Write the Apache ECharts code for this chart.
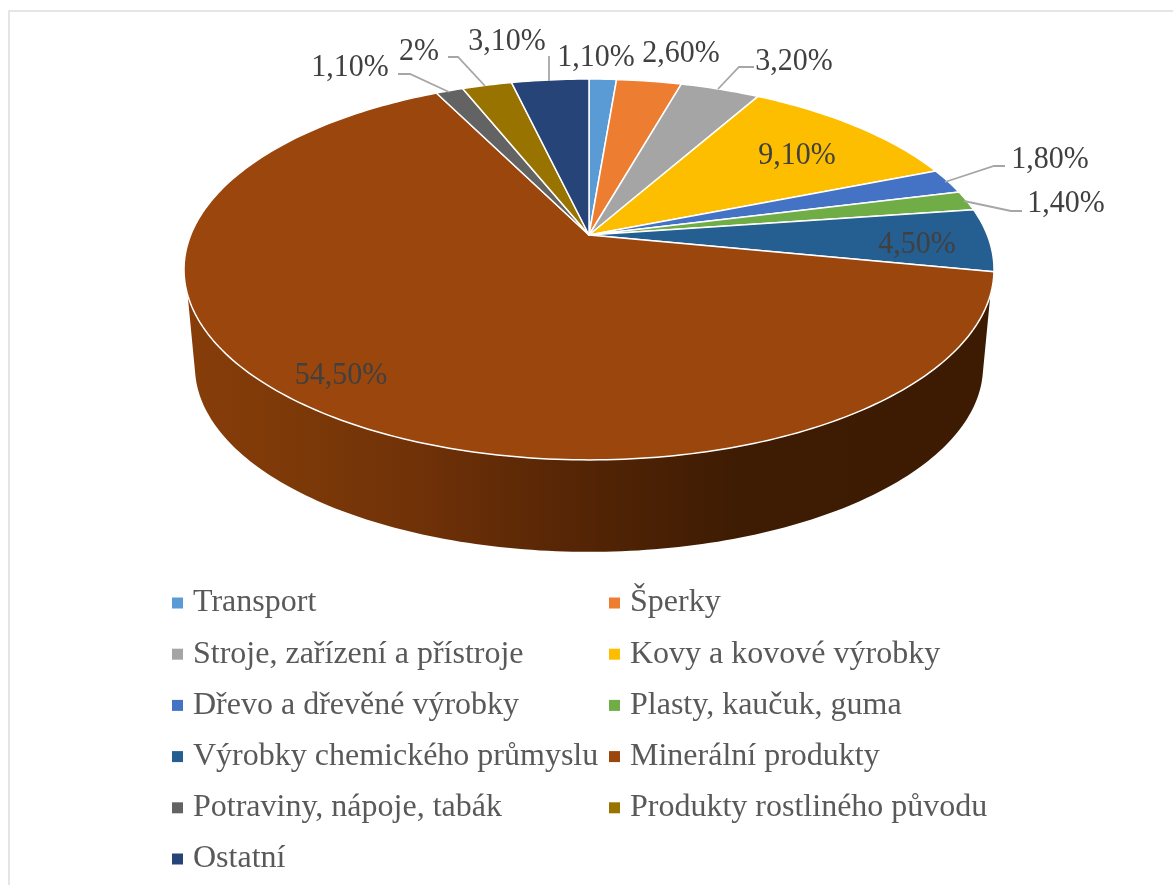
<!DOCTYPE html>
<html><head><meta charset="utf-8">
<style>html,body{margin:0;padding:0;background:#fff;overflow:hidden}#c{width:1173px;height:885px}</style>
<script src="https://cdn.jsdelivr.net/npm/echarts@6/dist/echarts.min.js"></script>
</head><body><div id="c"></div>
<script>
const categories = ['Transport','Šperky','Stroje, zařízení a přístroje','Kovy a kovové výrobky','Dřevo a dřevěné výrobky','Plasty, kaučuk, guma','Výrobky chemického průmyslu','Minerální produkty','Potraviny, nápoje, tabák','Produkty rostliného původu','Ostatní'];
const values = [1.1,2.6,3.2,9.1,1.8,1.4,4.5,54.5,1.1,2,3.1];
const valueLabels = ['1,10%','2,60%','3,20%','9,10%','1,80%','1,40%','4,50%','54,50%','1,10%','2%','3,10%'];
const colors = ['#5B9BD5','#ED7D31','#A5A5A5','#FDBE00','#4472C4','#70AD47','#255E91','#9A460C','#636363','#997300','#264478'];

// layout, separate from the data
const labelCenters = [[596,58],[681,54],[794,62],[797,156],[1050,160],[1066,204],[917,245],[341,376],[350,68],[419,52],[507,42]];
const leaders = [null,null,[[754,67],[739,67],[718,89]],null,[[1005,166],[994,166],[945,182]],[[1022,211],[1011,211],[964,201]],null,null,[[398,74],[410,74],[449,92]],[[448,57],[458,57],[485,86]],[[549,56],[549,81]]];
const pie = {cx:589, cy:235, A:398.3, B:184.2, k:0.181, depthY:98, depthScale:0.973, wallFrom:107.9, wallTo:252.1, baseFrom:103.3, baseTo:256.7};
const FONT = '"Liberation Serif","Times New Roman",serif';

const total = values.reduce((a,b)=>a+b,0);
const startAngle = values.map((_,i)=>values.slice(0,i).reduce((a,b)=>a+b,0)/total*360);

// perspective projection of a point on the disc rim
function rim(deg, bottom){
  const t = deg*Math.PI/180, u = Math.sin(t), v = -Math.cos(t), w = 1-pie.k*v;
  const s = bottom ? pie.depthScale : 1, cy = pie.cy + (bottom ? pie.depthY : 0);
  return [pie.cx + s*pie.A*u/w, cy + s*pie.B*v/w];
}
function arc(a,b,bottom){
  const n = Math.max(2,Math.ceil(Math.abs(b-a))), out=[];
  for(let i=0;i<=n;i++) out.push(rim(a+(b-a)*i/n,bottom));
  return out;
}
function makeRender(i){
  return function(params, api){
    const val = api.value(0), a = startAngle[i], b = a+val/total*360, children=[];
    const wa = Math.max(a,pie.wallFrom), wb = Math.min(b,pie.wallTo);
    if(wb>wa){
      const ba = Math.max(a,pie.baseFrom), bb = Math.min(b,pie.baseTo);
      children.push({type:'polygon',shape:{points:arc(wa,wb,false).concat(arc(bb,ba,true))},
        style:{fill:{type:'linear',x:188,y:0,x2:990,y2:0,global:true,colorStops:[
          {offset:0,color:'#863D0A'},{offset:0.14,color:'#7C3908'},{offset:0.28,color:'#713208'},
          {offset:0.5,color:'#532405'},{offset:0.68,color:'#3E1C03'},{offset:1,color:'#3D1B02'}]}}});
    }
    children.push({type:'polygon',shape:{points:[[pie.cx,pie.cy]].concat(arc(a,b,false))},
      style:{fill:colors[i],stroke:'#fff',lineWidth:1.5,lineJoin:'round'},z2:2});
    if(leaders[i]) children.push({type:'polyline',shape:{points:leaders[i]},
      style:{fill:null,stroke:'#A6A6A6',lineWidth:1.8},z2:3});
    children.push({type:'text',z2:4,x:labelCenters[i][0],y:labelCenters[i][1],scaleY:1.07,
      style:{text:valueLabels[i],x:0,y:0,fill:'#404040',font:'30px '+FONT,align:'center',verticalAlign:'middle'}});
    return {type:'group',children};
  };
}
const legendText = {color:'#595959',fontFamily:FONT,fontSize:32,padding:[0,0,0,5],lineHeight:32};
function legend(left,names){
  return {show:true,orient:'vertical',left,top:587,padding:0,icon:'rect',itemWidth:11,itemHeight:11,itemGap:19.2,
    selectedMode:false,textStyle:legendText,data:names};
}
const chart = echarts.init(document.getElementById('c'),null,{renderer:'canvas'});
chart.setOption({
  animation:false,backgroundColor:'#fff',
  graphic:[{type:'rect',silent:true,shape:{x:9,y:11,width:1400,height:1100},style:{fill:null,stroke:'#DDDDDD',lineWidth:1.5}}],
  legend:[legend(172,categories.filter((_,i)=>i%2===0)),legend(609,categories.filter((_,i)=>i%2===1))],
  series:categories.map((name,i)=>({type:'custom',name,coordinateSystem:'none',silent:true,
    itemStyle:{color:colors[i]},data:[[values[i]]],renderItem:makeRender(i)}))
});
</script></body></html>
